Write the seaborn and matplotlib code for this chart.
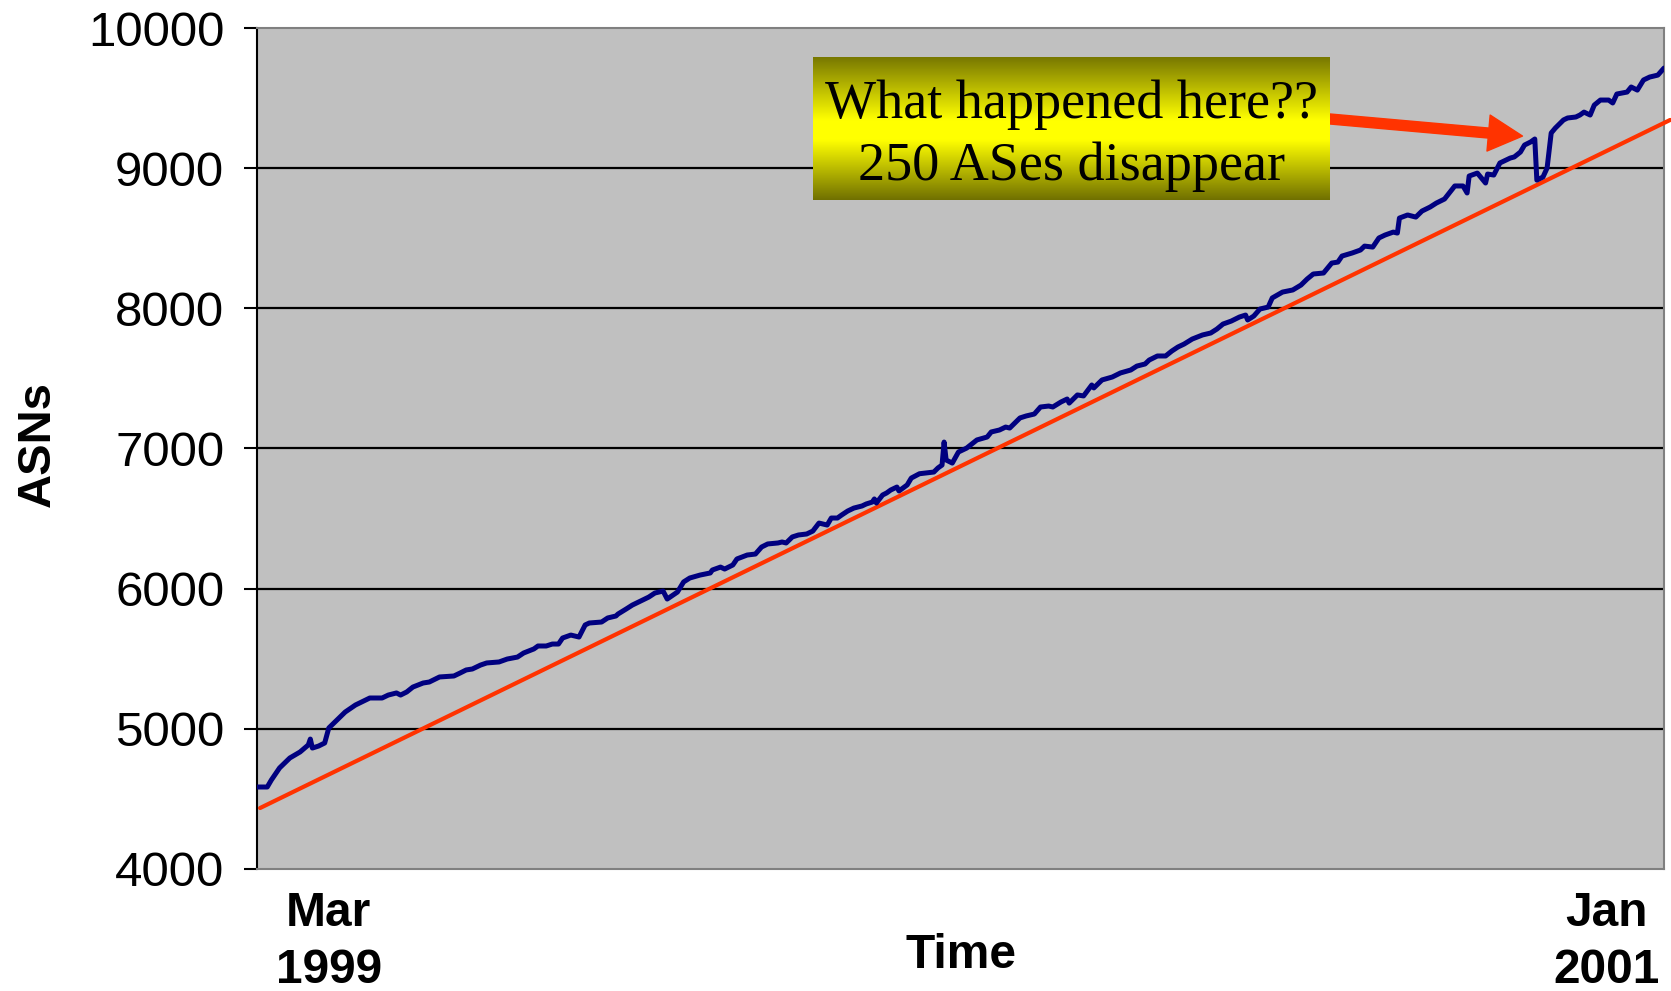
import numpy as np
import pandas as pd
import matplotlib
matplotlib.use('Agg')
import matplotlib.pyplot as plt
import seaborn as sns

# ==========================================
# data
# days since start of Mar 1999, number of ASNs
# ==========================================
days = [0, 5, 7, 11, 16, 21, 25, 26, 27, 30, 33, 35, 38, 43, 48, 55, 61, 64, 68, 70,
        73, 76, 81, 84, 89, 96, 99, 102, 105, 109, 112, 118, 122, 127, 130, 135, 137, 141, 144, 147,
        149, 153, 157, 160, 162, 168, 171, 175, 176, 180, 183, 188, 191, 194, 198, 200, 205, 208, 211, 216,
        221, 222, 226, 228, 232, 234, 239, 243, 246, 249, 254, 256, 258, 261, 264, 268, 271, 274, 278, 280,
        283, 285, 288, 291, 295, 297, 300, 301, 302, 305, 307, 309, 312, 313, 317, 319, 323, 330, 332, 334,
        335, 336, 339, 342, 346, 351, 356, 358, 362, 365, 367, 372, 375, 379, 382, 386, 388, 392, 395, 396,
        400, 403, 407, 408, 412, 417, 421, 426, 429, 433, 435, 439, 443, 446, 449, 452, 456, 461, 465, 468,
        471, 475, 479, 482, 483, 486, 489, 493, 495, 500, 505, 509, 512, 515, 520, 524, 527, 529, 534, 538,
        540, 544, 547, 550, 554, 556, 557, 561, 565, 568, 572, 575, 579, 584, 588, 590, 591, 595, 599, 600,
        603, 606, 611, 613, 616, 618, 621, 623, 624, 627, 629, 631, 633, 637, 639, 643, 645, 647, 650, 652,
        655, 659, 661, 663, 668, 670, 673, 676, 679, 683, 686]
asns = [4585, 4585, 4635, 4721, 4792, 4835, 4885, 4927, 4863, 4877, 4899, 5006, 5049, 5120, 5170, 5220, 5220, 5241, 5256, 5241,
        5263, 5298, 5327, 5334, 5370, 5377, 5398, 5420, 5427, 5455, 5470, 5477, 5498, 5512, 5541, 5570, 5591, 5591, 5605, 5605,
        5648, 5669, 5655, 5741, 5755, 5762, 5791, 5805, 5819, 5855, 5883, 5919, 5940, 5969, 5983, 5926, 5976, 6048, 6076, 6097,
        6112, 6133, 6154, 6140, 6169, 6212, 6240, 6247, 6297, 6319, 6326, 6333, 6326, 6369, 6383, 6390, 6411, 6468, 6454, 6504,
        6504, 6525, 6554, 6575, 6590, 6604, 6618, 6640, 6611, 6668, 6683, 6704, 6725, 6697, 6740, 6789, 6820, 6832, 6861, 6882,
        7046, 6918, 6896, 6975, 7003, 7061, 7082, 7118, 7132, 7153, 7146, 7218, 7232, 7246, 7296, 7303, 7296, 7332, 7353, 7324,
        7382, 7375, 7453, 7432, 7489, 7510, 7539, 7560, 7588, 7603, 7631, 7660, 7660, 7695, 7724, 7745, 7781, 7810, 7824, 7852,
        7888, 7909, 7938, 7952, 7917, 7945, 7995, 8009, 8074, 8116, 8131, 8166, 8209, 8245, 8252, 8323, 8330, 8373, 8395, 8416,
        8444, 8437, 8502, 8523, 8544, 8537, 8644, 8666, 8651, 8694, 8723, 8751, 8780, 8873, 8873, 8823, 8944, 8965, 8894, 8958,
        8951, 9037, 9072, 9080, 9115, 9165, 9187, 9208, 8915, 8937, 9001, 9251, 9286, 9344, 9358, 9365, 9379, 9400, 9379, 9450,
        9486, 9486, 9465, 9529, 9543, 9579, 9557, 9629, 9650, 9664, 9714]

# linear trend line (end points)
trend_days = [1.5, 689]
trend_asns = [4435, 9344]

tick_days = [35, 658]
tick_labels = ['Mar\n1999', 'Jan\n2001']
y_ticks = [4000, 5000, 6000, 7000, 8000, 9000, 10000]

note_text = 'What happened here??\n250 ASes disappear'
note_tip = (617, 9229)
note_tail = (523, 9351)

df = pd.DataFrame({'day': days, 'asns': asns})
df_trend = pd.DataFrame({'day': trend_days, 'asns': trend_asns})

# ==========================================
# style
# ==========================================
sns.set_theme(style='white')
plt.rcParams['font.family'] = ['Liberation Sans', 'DejaVu Sans']
plt.rcParams['text.color'] = 'black'
plt.rcParams['axes.labelcolor'] = 'black'
plt.rcParams['xtick.color'] = 'black'
plt.rcParams['ytick.color'] = 'black'

W, H = 1671, 991
fig = plt.figure(figsize=(W / 100, H / 100), dpi=100)
ax = fig.add_axes([257 / W, 1 - 869 / H, (1664 - 257) / W, (869 - 28) / H])
ax.set_facecolor('#C0C0C0')

for y in y_ticks[1:-1]:
    ax.axhline(y, color='black', lw=1.6, zorder=1)

sns.lineplot(data=df_trend, x='day', y='asns', ax=ax, color='#FF3300', lw=3.0,
             clip_on=False, zorder=3)
sns.lineplot(data=df, x='day', y='asns', ax=ax, color='#000080', lw=3.6, zorder=4)

ax.set_xlim(0, 686)
ax.set_ylim(4000, 10000)
ax.set_yticks(y_ticks)
ax.set_yticklabels([str(v) for v in y_ticks], fontsize=35.5)
ax.set_xticks(tick_days)
ax.set_xticklabels(tick_labels, fontsize=34.5, fontweight='bold', linespacing=1.33)
ax.tick_params(axis='y', direction='out', length=9.5, width=1.5, color='black',
               pad=14, left=True)
ax.tick_params(axis='x', length=0, pad=16)

for side in ['top', 'right', 'bottom']:
    ax.spines[side].set_color('#808080')
    ax.spines[side].set_linewidth(1.5)
ax.spines['left'].set_color('black')
ax.spines['left'].set_linewidth(1.5)

ax.set_xlabel('Time', fontsize=34.5, fontweight='bold', va='center')
ax.xaxis.set_label_coords(0.5, -(955 - 869) / (869 - 28))
ax.set_ylabel('ASNs', fontsize=34, fontweight='bold', va='center')
ax.yaxis.set_label_coords(-(257 - 38) / (1664 - 257), 0.505)

# arrow pointing at the dip
ax.annotate('', xy=note_tip, xytext=note_tail, xycoords='data',
            arrowprops=dict(arrowstyle='simple,head_length=2.45,head_width=2.6,tail_width=0.72',
                            color='#FF3300', mutation_scale=10, shrinkA=0, shrinkB=0),
            zorder=5, annotation_clip=False)

# yellow gradient box
bx = fig.add_axes([813 / W, 1 - 200 / H, (1330 - 813) / W, (200 - 57) / H])
t = np.linspace(0, 1, 200)
lvl = np.interp(t, [0, 0.44, 0.58, 1], [0.47, 1.0, 1.0, 0.44])
grad = np.stack([lvl, lvl, np.zeros_like(lvl)], axis=1)[:, None, :]
bx.imshow(grad, aspect='auto', extent=[0, 1, 1, 0])
bx.set_xlim(0, 1)
bx.set_ylim(1, 0)
bx.axis('off')
bx.text(0.5, 0.45, note_text, ha='center', va='center', fontsize=39,
        family=['Liberation Serif', 'DejaVu Serif'], linespacing=1.3,
        transform=bx.transAxes)

fig.savefig('out.png', dpi=100, facecolor='white')
